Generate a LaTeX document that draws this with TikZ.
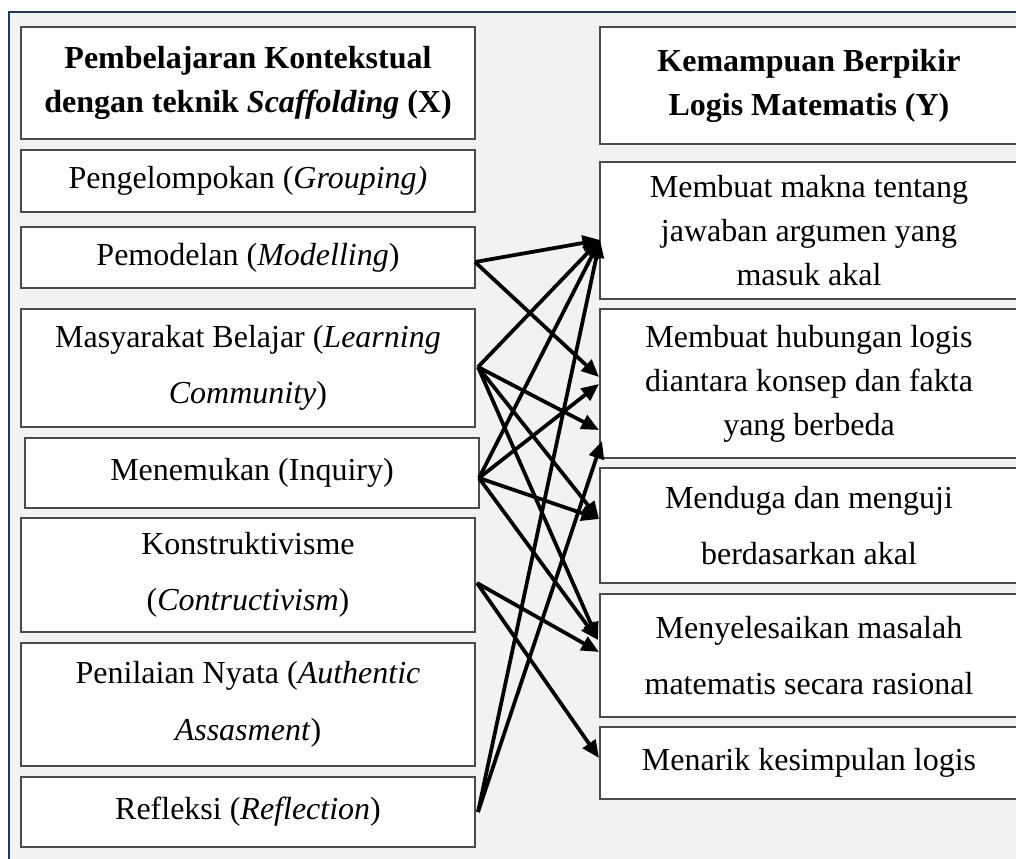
\documentclass[tikz,border=0pt]{standalone}
\usepackage{fontspec}
\setmainfont{Liberation Serif}
\usetikzlibrary{arrows.meta}
\definecolor{framebg}{HTML}{F2F2F2}
\definecolor{frameline}{HTML}{1F3864}
\definecolor{boxline}{HTML}{4A4A4A}
\tikzset{
  itembox/.style={draw=boxline, line width=1.1pt, fill=white, align=center,
    inner sep=0pt, font=\fontsize{12.8pt}{17.6pt}\selectfont},
  leftbox/.style={itembox, minimum width=181.6pt},
  rightbox/.style={itembox, minimum width=167.2pt},
  headfont/.style={font=\fontsize{12.8pt}{17.6pt}\selectfont\bfseries},
  link/.style={line width=1.5pt, -{Triangle[length=7pt,width=6pt]}}
}
\begin{document}
\begin{tikzpicture}[x=0.4pt,y=-0.4pt]
\useasboundingbox (0,0) rectangle (1016,859);
\fill[framebg] (9,12) rectangle (1016,859);
\draw[frameline, line width=0.9pt] (9,859) -- (9,12) -- (1016,12);
% left column
\node[leftbox, headfont, minimum height=44.8pt] (tx) at (248,83) {Pembelajaran Kontekstual\\dengan teknik \textit{Scaffolding} (X)};
\node[leftbox, minimum height=24.8pt] (g1) at (248,181) {Pengelompokan (\textit{Grouping)}};
\node[leftbox, minimum height=24.4pt] (g2) at (248,257.5) {Pemodelan (\textit{Modelling})};
\node[leftbox, minimum height=47.2pt] (g3) at (248,368) {Masyarakat Belajar (\textit{Learning}\\[5pt]\textit{Community})};
\node[leftbox, minimum height=28pt] (g4) at (252,473) {Menemukan (Inquiry)};
\node[leftbox, minimum height=45.6pt] (g5) at (248,575) {Konstruktivisme\\[5pt](\textit{Contructivism})};
\node[leftbox, minimum height=49.2pt] (g6) at (248,704.5) {Penilaian Nyata (\textit{Authentic}\\[5pt]\textit{Assasment})};
\node[leftbox, minimum height=28pt] (g7) at (248,812) {Refleksi (\textit{Reflection})};
% right column
\node[rightbox, headfont, minimum height=46.8pt] (ty) at (809,85.5) {Kemampuan Berpikir\\Logis Matematis (Y)};
\node[rightbox, minimum height=54.8pt] (a1) at (809,230.5) {Membuat makna tentang\\jawaban argumen yang\\masuk akal};
\node[rightbox, minimum height=59.6pt] (a2) at (809,383.5) {Membuat hubungan logis\\diantara konsep dan fakta\\yang berbeda};
\node[rightbox, minimum height=46pt] (a3) at (809,525.5) {Menduga dan menguji\\[5pt]berdasarkan akal};
\node[rightbox, minimum height=49.2pt] (a4) at (809,655.5) {Menyelesaikan masalah\\[5pt]matematis secara rasional};
\node[rightbox, minimum height=28.8pt] (a5) at (809,763) {Menarik kesimpulan logis};
% arrow ends
\coordinate (sM) at (475,262);
\coordinate (sL) at (478,367);
\coordinate (sI) at (479,478);
\coordinate (sK) at (477,583);
\coordinate (sR) at (478,812);
\coordinate (tA1) at (600,240);
\coordinate (tA2a) at (599,377);
\coordinate (tA2b) at (599,384);
\coordinate (tA2c) at (599,430);
\coordinate (tA2d) at (602,441);
\coordinate (tA3) at (599,519);
\coordinate (tA4a) at (598,640);
\coordinate (tA4b) at (599,652);
\coordinate (tA5) at (599,758);
% arrows
\draw[link] (sM) -- (tA1);
\draw[link] (sM) -- (tA2a);
\draw[link] (sL) -- (tA1);
\draw[link] (sL) -- (tA2c);
\draw[link] (sL) -- (tA3);
\draw[link] (sL) -- (tA4a);
\draw[link] (sI) -- (tA1);
\draw[link] (sI) -- (tA2b);
\draw[link] (sI) -- (tA3);
\draw[link] (sI) -- (tA4a);
\draw[link] (sK) -- (tA4b);
\draw[link] (sK) -- (tA5);
\draw[link] (sR) -- (tA1);
\draw[link] (sR) -- (tA2d);
\end{tikzpicture}
\end{document}
